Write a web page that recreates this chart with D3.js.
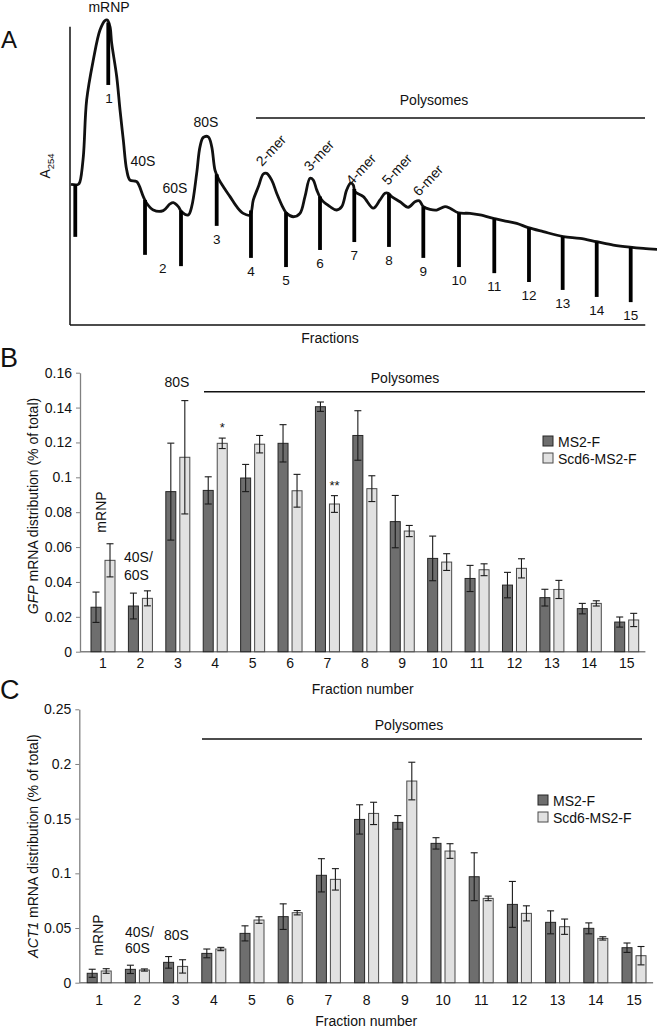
<!DOCTYPE html>
<html><head><meta charset="utf-8">
<script src="https://cdn.jsdelivr.net/npm/d3@7"></script>
<style>
body{margin:0;background:#fff;}
svg{display:block;font-family:"Liberation Sans",Arial,sans-serif;}
</style></head><body>
<svg id="chart" width="657" height="1030"></svg>
<script>
// ---------- Panel A: A254 polysome profile ----------
// gradient position (0-100) and relative absorbance (0-100)
const tracePos = [0.17,1.41,1.70,2.27,2.84,3.97,5.11,5.96,6.35,6.81,7.10,7.96,8.52,9.08,9.66,10.22,11.36,12.49,13.07,14.19,15.89,17.04,17.6,18.45,19.03,20.15,20.73,21.58,22.15,22.71,23.56,24.14,24.70,25.26,26.12,27.26,28.4,29.52,30.66,31.23,32.08,32.93,33.51,34.36,35.21,36.34,36.92,38.04,39.18,40.03,40.89,41.45,42.03,42.88,44.29,45.43,46.29,47.14,47.82,48.26,48.55,49.97,51.67,52.81,53.66,54.22,54.80,56.22,57.63,58.77,59.51,60.19,61.33,62.47,63.88,64.74,66.15,68.14,69.85,72.11,73.82,76.1,78.08,80.63,84.04,86.88,89.73,92.56,95.4,97.67,100.2];
const traceA254 = [46.1,46.1,47.0,55.2,73.8,86.9,96.7,99.8,100,97.8,92.4,81.4,70.5,60.7,50.8,47.5,47.0,42.1,39.9,37.7,37.5,39.7,40.1,38.8,37.1,36.1,38.8,49.7,58.5,61.5,61.7,58.5,50.8,48.1,45.3,42.1,38.8,36.6,36.1,41.0,45.3,49.5,49.7,47.5,43.2,38.3,36.6,35.5,36.6,42.1,48.1,47.5,44.3,41.0,38.8,37.7,38.8,44.3,46.5,45.9,43.7,42.1,38.3,41.0,43.2,43.2,42.1,40.4,38.6,40.4,40.7,38.8,37.9,37.7,38.8,38.3,36.8,36.6,36.1,35.0,34.2,33.3,31.9,30.6,29.0,28.4,27.3,26.2,25.5,25.1,24.8];
// fraction collector marks: position and lowest point of each mark
const markPos = [0.90,6.52,12.78,18.91,24.99,30.83,36.8,42.59,48.43,54.34,60.19,66.27,72.28,78.19,83.93,89.73,95.52];
const markBottom = [28.9,78.7,23.0,19.3,32.5,22.0,19.0,24.6,27.2,25.6,22.0,19.0,17.0,14.1,11.5,9.2,7.5];
const fractionLabelPos = [6.64,15.8,24.99,30.83,36.8,42.59,48.43,54.34,60.19,66.27,72.28,78.19,83.93,89.73,95.52];

// ---------- Panels B & C ----------
const fractions = ["1","2","3","4","5","6","7","8","9","10","11","12","13","14","15"];
const seriesNames = ["MS2-F","Scd6-MS2-F"];

const gfpMS2 = [0.0255,0.0262,0.0918,0.0925,0.0996,0.1195,0.1405,0.124,0.0746,0.0535,0.042,0.0382,0.031,0.0247,0.017];
const gfpMS2Err = [0.0087,0.0074,0.0278,0.0078,0.0078,0.0107,0.0027,0.0142,0.015,0.0128,0.0075,0.0073,0.0048,0.003,0.0029];
const gfpScd6 = [0.0524,0.0306,0.1115,0.1195,0.119,0.0923,0.0847,0.0935,0.0692,0.0514,0.047,0.0478,0.0357,0.0277,0.0182];
const gfpScd6Err = [0.0095,0.0043,0.0325,0.003,0.005,0.0094,0.0048,0.0074,0.0032,0.0048,0.0034,0.0055,0.0052,0.0015,0.0038];
const gfpTicks = [0,0.02,0.04,0.06,0.08,0.1,0.12,0.14,0.16];
const gfpStars = ["","","","*","","","**","","","","","","","",""];

const act1MS2 = [0.0086,0.0122,0.0186,0.0268,0.0451,0.0604,0.0982,0.1493,0.1466,0.1274,0.0969,0.0716,0.0552,0.0497,0.032];
const act1MS2Err = [0.0037,0.0038,0.0053,0.004,0.0069,0.0117,0.0152,0.0134,0.0062,0.0052,0.0219,0.021,0.0105,0.005,0.0043];
const act1Scd6 = [0.0107,0.0116,0.0149,0.0308,0.0573,0.064,0.0945,0.1548,0.1844,0.1204,0.0771,0.0634,0.0512,0.0405,0.0247];
const act1Scd6Err = [0.0021,0.001,0.0061,0.0015,0.003,0.002,0.0098,0.0102,0.0172,0.0067,0.0021,0.0069,0.007,0.0015,0.0084];
const act1Ticks = [0,0.05,0.1,0.15,0.2,0.25];

const FONT = "Liberation Sans, Arial, sans-serif";
const svg = d3.select("#chart");

function txt(g, x, y, s, size, anchor){
  return g.append("text").attr("x",x).attr("y",y).attr("font-size",size)
    .attr("text-anchor",anchor||"start").attr("fill","#111").text(s);
}

// ================= Panel A =================
(function(){
  const g = svg.append("g");
  const xT = d3.scaleLinear().domain([0,100]).range([70,657]);
  const yT = d3.scaleLinear().domain([0,100]).range([325,20]);
  const trace = tracePos.map((p,i)=>[p, traceA254[i]]);
  const interp = p => {
    const i = d3.bisector(d=>d[0]).left(trace, p);
    if (i<=0) return trace[0][1];
    if (i>=trace.length) return trace[trace.length-1][1];
    const a = trace[i-1], b = trace[i];
    return a[1] + (b[1]-a[1])*(p-a[0])/(b[0]-a[0]);
  };
  // axes
  g.append("line").attr("x1",xT(0)).attr("x2",xT(0)).attr("y1",yT(0)).attr("y2",yT(97.8))
    .attr("stroke","#111").attr("stroke-width",1.5);
  g.append("line").attr("x1",xT(0)).attr("x2",xT(98)).attr("y1",yT(0)).attr("y2",yT(0))
    .attr("stroke","#111").attr("stroke-width",1.5);
  // trace
  g.append("path").datum(trace)
    .attr("d", d3.line().x(d=>xT(d[0])).y(d=>yT(d[1])).curve(d3.curveCatmullRom.alpha(0.5)))
    .attr("fill","none").attr("stroke","#111").attr("stroke-width",2.8).attr("stroke-linejoin","round");
  // fraction marks
  g.selectAll("line.mark").data(markPos).join("line").attr("class","mark")
    .attr("x1",d=>xT(d)).attr("x2",d=>xT(d))
    .attr("y1",d=>yT(interp(d))).attr("y2",(d,i)=>yT(markBottom[i]))
    .attr("stroke","#000").attr("stroke-width",3.8);
  // fraction numbers
  fractionLabelPos.forEach((p,i)=>{
    let best=0; markPos.forEach((m,j)=>{ if (Math.abs(m-p)<Math.abs(markPos[best]-p)) best=j; });
    txt(g, xT(p), yT(markBottom[best])+18, fractions[i], 13.5, "middle");
  });
  // peak labels
  txt(g,109,12,"mRNP",14,"middle");
  txt(g,143,166,"40S",14,"middle");
  txt(g,175,193,"60S",14,"middle");
  txt(g,206,127,"80S",14,"middle");
  [["2-mer",262,167],["3-mer",310,172],["4-mer",352,186],["5-mer",388,186],["6-mer",419,197]].forEach(d=>{
    g.append("text").attr("transform",`translate(${d[1]},${d[2]}) rotate(-47)`)
      .attr("font-size",14).attr("fill","#111").text(d[0]);
  });
  // polysomes bar
  g.append("line").attr("x1",256).attr("x2",645).attr("y1",118).attr("y2",118).attr("stroke","#111").attr("stroke-width",1.3);
  txt(g,434,105,"Polysomes",14,"middle");
  txt(g,330,343,"Fractions",14,"middle");
  // y label A254
  const yl = g.append("text").attr("transform","translate(50,166) rotate(-90)").attr("text-anchor","middle")
    .attr("font-size",14).attr("fill","#111");
  yl.append("tspan").text("A");
  yl.append("tspan").attr("font-size",9.5).attr("dy",4).text("254");
  txt(g,1,48,"A",24,"start");
})();

// ================= Bar panels =================
function barPanel(o){
  const g = svg.append("g");
  const y = d3.scaleLinear().domain([0,o.yMax]).range([o.y0,o.yTop]);
  const x = d3.scaleBand().domain(fractions).range(o.xRange);
  const bw = x.bandwidth();
  const sub = d3.scaleBand().domain(seriesNames).range([bw/2-12, bw/2+12]).paddingInner(4/14);
  // y axis
  const ya = g.append("g").attr("transform",`translate(${o.axisX},0)`)
    .call(d3.axisLeft(y).tickValues(o.ticks).tickSize(4).tickSizeOuter(0).tickPadding(4).tickFormat(d3.format("")));
  ya.attr("font-size",14).attr("font-family",FONT);
  ya.select(".domain").attr("stroke","#808080").attr("stroke-width",1.3);
  ya.selectAll(".tick line").attr("stroke","#808080");
  ya.selectAll(".tick text").attr("fill","#111");
  // x axis
  g.append("line").attr("x1",o.axisX).attr("x2",o.xRange[1]).attr("y1",o.y0).attr("y2",o.y0)
    .attr("stroke","#808080").attr("stroke-width",1.4);
  g.selectAll("text.xl").data(fractions).join("text").attr("class","xl")
    .attr("x",d=>x(d)+bw/2).attr("y",o.y0+o.xLabelGap).attr("text-anchor","middle")
    .attr("font-size",14).attr("fill","#111").text(d=>d);
  const series = [
    {name:seriesNames[0], v:o.s1, e:o.e1, fill:"#6e6e6e", stroke:"#262626"},
    {name:seriesNames[1], v:o.s2, e:o.e2, fill:"#e1e1e1", stroke:"#4a4a4a"}
  ];
  series.forEach(s=>{
    const gs = g.append("g");
    gs.selectAll("rect").data(fractions).join("rect")
      .attr("x",(d)=>x(d)+sub(s.name)).attr("width",sub.bandwidth())
      .attr("y",(d,i)=>y(s.v[i])).attr("height",(d,i)=>o.y0-y(s.v[i]))
      .attr("fill",s.fill).attr("stroke",s.stroke).attr("stroke-width",1);
    const cx = d => x(d)+sub(s.name)+sub.bandwidth()/2;
    gs.selectAll("line.eb").data(fractions).join("line").attr("class","eb")
      .attr("x1",cx).attr("x2",cx).attr("y1",(d,i)=>y(s.v[i]+s.e[i])).attr("y2",(d,i)=>y(s.v[i]-s.e[i]))
      .attr("stroke","#1a1a1a").attr("stroke-width",1.1);
    [1,-1].forEach(sg=>{
      gs.selectAll("line.cap"+(sg>0?"t":"b")).data(fractions).join("line").attr("class","cap"+(sg>0?"t":"b"))
        .attr("x1",d=>cx(d)-3.5).attr("x2",d=>cx(d)+3.5)
        .attr("y1",(d,i)=>y(s.v[i]+sg*s.e[i])).attr("y2",(d,i)=>y(s.v[i]+sg*s.e[i]))
        .attr("stroke","#1a1a1a").attr("stroke-width",1.1);
    });
  });
  if (o.stars){
    fractions.forEach((f,i)=>{
      if (!o.stars[i]) return;
      g.append("text").attr("x",x(f)+sub(seriesNames[1])+sub.bandwidth()/2)
        .attr("y",y(o.s2[i]+o.e2[i])-6).attr("text-anchor","middle").attr("font-size",13)
        .attr("fill","#111").text(o.stars[i]);
    });
  }
  // legend
  seriesNames.forEach((n,i)=>{
    g.append("rect").attr("x",o.legX).attr("y",o.legY+i*17).attr("width",10).attr("height",10)
      .attr("fill",series[i].fill).attr("stroke",series[i].stroke).attr("stroke-width",1);
    txt(g,o.legX+15,o.legY+i*17+10.5,n,14,"start");
  });
  // polysomes line
  g.append("line").attr("x1",o.polyX[0]).attr("x2",o.polyX[1]).attr("y1",o.polyY).attr("y2",o.polyY)
    .attr("stroke","#111").attr("stroke-width",1.4);
  txt(g,o.polyTextX,o.polyY-9,"Polysomes",14,"middle");
  // axis title
  txt(g,(o.axisX+o.xRange[1])/2,o.xTitleY,"Fraction number",14,"middle");
  const yt = g.append("text").attr("transform",`translate(38,${o.yTitleY}) rotate(-90)`)
    .attr("text-anchor","middle").attr("font-size",14).attr("fill","#111");
  yt.append("tspan").attr("font-style","italic").text(o.gene);
  yt.append("tspan").text(" mRNA distribution (% of total)");
  txt(g,0,o.letterY,o.letter,27,"start");
  return {g,x,y,bw};
}

const B = barPanel({
  s1:gfpMS2,e1:gfpMS2Err,s2:gfpScd6,e2:gfpScd6Err,yMax:0.16,ticks:gfpTicks,stars:gfpStars,
  y0:651.7,yTop:372.7,xRange:[84.3,645.4],axisX:80,xLabelGap:16.5,
  legX:543,legY:436,polyX:[204,645],polyY:391.7,polyTextX:405,xTitleY:694,yTitleY:506,
  gene:"GFP",letter:"B",letterY:366.5
});
txt(B.g,105.5,512,"mRNP",14,"middle").attr("transform","rotate(-90,105.5,512)");
txt(B.g,124,562,"40S/",14,"start");
txt(B.g,124,580,"60S",14,"start");
txt(B.g,177,387,"80S",14,"middle");

const C = barPanel({
  s1:act1MS2,e1:act1MS2Err,s2:act1Scd6,e2:act1Scd6Err,yMax:0.25,ticks:act1Ticks,stars:null,
  y0:982.7,yTop:709.3,xRange:[80.1,653.1],axisX:79.3,xLabelGap:22.5,
  legX:538,legY:795,polyX:[202,642],polyY:739,polyTextX:409,xTitleY:1026,yTitleY:846,
  gene:"ACT1",letter:"C",letterY:699
});
txt(C.g,103,935,"mRNP",14,"middle").attr("transform","rotate(-90,103,935)");
txt(C.g,125,937,"40S/",14,"start");
txt(C.g,125,953,"60S",14,"start");
txt(C.g,164,940,"80S",14,"start");
</script>
</body></html>
